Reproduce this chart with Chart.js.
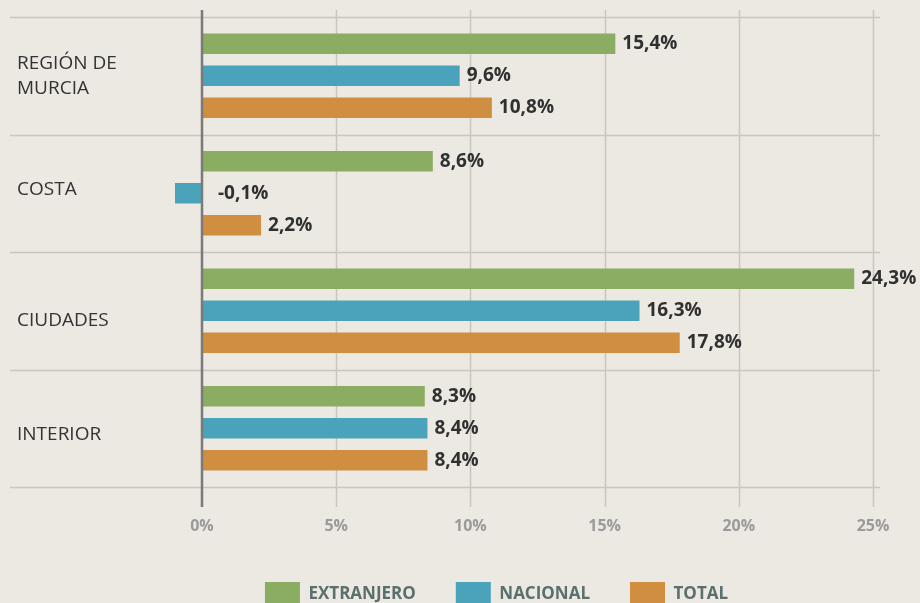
<!DOCTYPE html>
<html>
<head>
<meta charset="utf-8">
<script src="https://cdn.jsdelivr.net/npm/chart.js@4.4.1/dist/chart.umd.min.js"></script>
<style>
  html, body { margin: 0; padding: 0; background: #ece8e2; overflow: hidden; }
  #wrap { width: 920px; height: 616px; }
</style>
</head>
<body>
<div id="wrap"><canvas id="myBarChart" width="920" height="616"></canvas></div>
<script>
// Data
const categories = [["REGIÓN DE", "MURCIA"], "COSTA", "CIUDADES", "INTERIOR"];
const seriesNames = ["EXTRANJERO", "NACIONAL", "TOTAL"];
const extranjero = [15.4, 8.6, 24.3, 8.3];
const nacional = [9.6, -0.1, 16.3, 8.4];
const total = [10.8, 2.2, 17.8, 8.4];
const xTickStep = 5;
const xMax = 25;

// Styling
const colors = ["#8aad62", "#4aa3ba", "#d08f40"];
const labelNudge = [0, -3.5, 9.5, 6.5]; // category label vertical tweak
const catLabelX = 17;
const fontFamily = "'Open Sans', 'Noto Sans', sans-serif";

function fmt(v) {
    return v.toFixed(1).replace(".", ",") + "%";
}

// grid, separators, zero line, value labels, category labels
const decorPlugin = {
    id: "decor",
    beforeDatasetsDraw(chart) {
        const { ctx, chartArea, scales } = chart;
        const x = scales.x, y = scales.y;
        ctx.save();
        ctx.strokeStyle = "#c9c5bf";
        ctx.lineWidth = 1.5;
        x.ticks.forEach((t) => {
            if (t.value === 0) return;
            const px = Math.round(x.getPixelForValue(t.value)) + 0.5;
            ctx.beginPath();
            ctx.moveTo(px, chartArea.top - 7);
            ctx.lineTo(px, chartArea.bottom + 20);
            ctx.stroke();
        });
        for (let i = 0; i <= categories.length; i++) {
            const py = Math.round(y.getPixelForValue(i - 0.5)) + 0.5;
            ctx.beginPath();
            ctx.moveTo(10, py);
            ctx.lineTo(chartArea.right + 7, py);
            ctx.stroke();
        }
        ctx.restore();
    },
    afterDatasetsDraw(chart) {
        const { ctx, chartArea, scales } = chart;
        const x0 = scales.x.getPixelForValue(0);
        ctx.save();
        ctx.strokeStyle = "#7a7a7a";
        ctx.lineWidth = 2.5;
        ctx.beginPath();
        ctx.moveTo(x0, chartArea.top - 7);
        ctx.lineTo(x0, chartArea.bottom + 20);
        ctx.stroke();

        ctx.fillStyle = "#2f3030";
        ctx.font = "bold 19px " + fontFamily;
        ctx.textBaseline = "middle";
        ctx.textAlign = "left";
        chart.data.datasets.forEach((ds, di) => {
            chart.getDatasetMeta(di).data.forEach((bar, i) => {
                const v = ds.data[i];
                const px = Math.max(bar.x, bar.base) + (v < 0 ? 16 : 7);
                ctx.fillText(fmt(v), px, bar.y);
            });
        });

        ctx.font = "19px " + fontFamily;
        ctx.fillStyle = "#333333";
        categories.forEach((c, i) => {
            const lines = Array.isArray(c) ? c : [c];
            const lh = 25;
            let py = scales.y.getPixelForValue(i) + labelNudge[i] - (lines.length - 1) * lh / 2;
            lines.forEach((ln) => {
                ctx.fillText(ln, catLabelX, py);
                py += lh;
            });
        });
        ctx.restore();
    },
};

const ctx = document.getElementById("myBarChart").getContext("2d");

new Chart(ctx, {
    type: "bar",
    data: {
        labels: categories,
        datasets: [
            { label: seriesNames[0], data: extranjero, backgroundColor: colors[0] },
            { label: seriesNames[1], data: nacional, backgroundColor: colors[1], minBarLength: 27 },
            { label: seriesNames[2], data: total, backgroundColor: colors[2] },
        ],
    },
    options: {
        indexAxis: "y",
        responsive: false,
        animation: false,
        layout: { padding: { top: 17, left: 120, right: 47, bottom: 0 } },
        datasets: {
            bar: {
                borderWidth: 0,
                categoryPercentage: 0.817,
                barPercentage: 0.64,
                clip: false,
            },
        },
        scales: {
            x: {
                min: 0,
                max: xMax,
                grid: { display: false, drawTicks: false },
                border: { display: false },
                ticks: {
                    stepSize: xTickStep,
                    padding: 30,
                    color: "#9a9a9a",
                    font: { family: fontFamily, size: 16, weight: "bold" },
                    callback: (v) => v + "%",
                },
                afterFit: (scale) => { scale.height = 55; },
            },
            y: {
                grid: { display: false, drawTicks: false },
                border: { display: false },
                ticks: { display: false },
                afterFit: (scale) => { scale.width = 82; },
            },
        },
        plugins: {
            tooltip: { enabled: false },
            legend: {
                position: "bottom",
                labels: {
                    boxWidth: 35,
                    boxHeight: 24,
                    padding: 40,
                    color: "#5a706e",
                    font: { family: fontFamily, size: 17, weight: "bold" },
                },
            },
        },
    },
    plugins: [decorPlugin],
});
</script>
</body>
</html>
